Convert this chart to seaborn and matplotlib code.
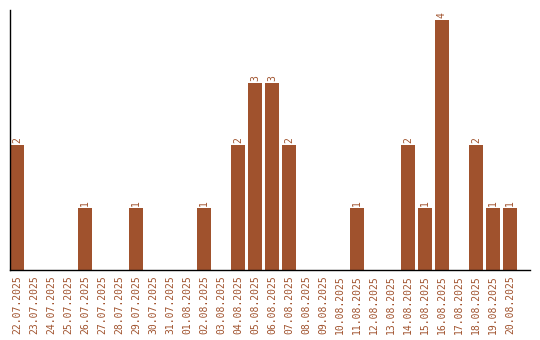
import matplotlib
matplotlib.use("Agg")
import matplotlib.pyplot as plt
import seaborn as sns
import pandas as pd

dates = ["22.07.2025", "23.07.2025", "24.07.2025", "25.07.2025", "26.07.2025",
         "27.07.2025", "28.07.2025", "29.07.2025", "30.07.2025", "31.07.2025",
         "01.08.2025", "02.08.2025", "03.08.2025", "04.08.2025", "05.08.2025",
         "06.08.2025", "07.08.2025", "08.08.2025", "09.08.2025", "10.08.2025",
         "11.08.2025", "12.08.2025", "13.08.2025", "14.08.2025", "15.08.2025",
         "16.08.2025", "17.08.2025", "18.08.2025", "19.08.2025", "20.08.2025"]
counts = [2, 0, 0, 0, 1, 0, 0, 1, 0, 0, 0, 1, 0, 2, 3, 3, 2, 0, 0, 0,
          1, 0, 0, 2, 1, 4, 0, 2, 1, 1]

color = "#A0522D"
sns.set_style("white")
plt.rcParams['font.family'] = ['DejaVu Sans Mono', 'DejaVu Sans']

df = pd.DataFrame({"date": dates, "count": counts})
fig = plt.figure(figsize=(5.4, 3.4), dpi=100)
ax = fig.add_axes([10/540, 70/340, 520/540, 260/340])
sns.barplot(data=df, x="date", y="count", color=color, saturation=1,
            width=14/17, ax=ax, edgecolor="none")
for i, v in enumerate(counts):
    if v > 0:
        ax.text(i, v + 0.03, str(v), rotation=90, ha="center", va="bottom",
                color=color, fontsize=7)
ax.set_xlim(-0.41, 30.18)
ax.set_ylim(0, 4.16)
ax.set_xlabel("")
ax.set_ylabel("")
ax.set_yticks([])
ax.tick_params(axis="x", length=0, pad=4, labelsize=7, labelcolor=color, rotation=90)
for s in ["top", "right"]:
    ax.spines[s].set_visible(False)
for s in ["left", "bottom"]:
    ax.spines[s].set_color("black")
    ax.spines[s].set_linewidth(1)
fig.savefig("out.png", dpi=100)
